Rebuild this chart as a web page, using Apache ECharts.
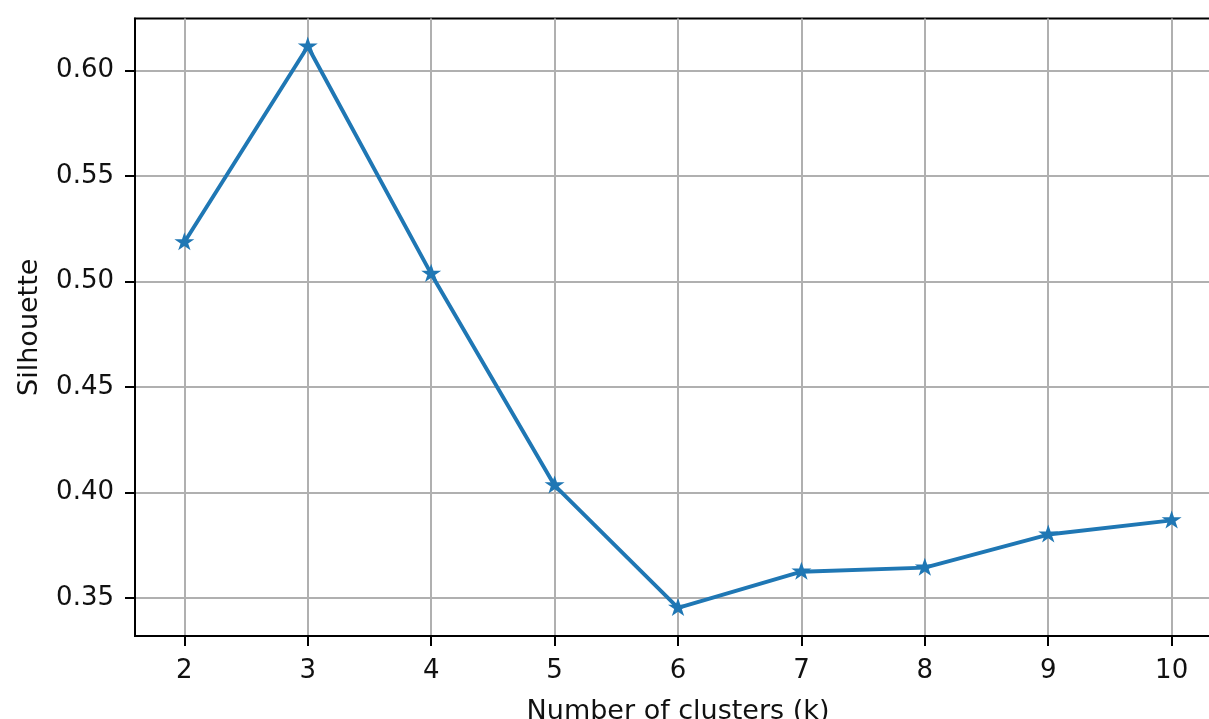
<!DOCTYPE html>
<html>
<head>
<meta charset="utf-8">
<script src="https://cdn.jsdelivr.net/npm/echarts@6/dist/echarts.min.js"></script>
<style>
html,body{margin:0;padding:0;background:#fff;overflow:hidden;width:1209px;height:719px;}
#chart{width:1221px;height:719px;}
</style>
</head>
<body>
<div id="chart"></div>
<script>
const clusters = [2, 3, 4, 5, 6, 7, 8, 9, 10];
const silhouette = [0.5186, 0.6114, 0.5036, 0.4033, 0.3452, 0.3624, 0.3643, 0.3800, 0.3867];
const xTicks = [2, 3, 4, 5, 6, 7, 8, 9, 10];
const yTicks = [0.35, 0.40, 0.45, 0.50, 0.55, 0.60];
const xLabel = 'Number of clusters (k)';
const yLabel = 'Silhouette';

const starPath = 'path://M100 0L122.45 69.1L195.11 69.1L136.33 111.8L158.78 180.9L100 138.2L41.22 180.9L63.67 111.8L4.89 69.1L77.55 69.1Z';
const font = 'DejaVu Sans';
const txt = '#111111';

const chart = echarts.init(document.getElementById('chart'), null, {renderer: 'canvas', width: 1221, height: 719});
chart.setOption({
  animation: false,
  backgroundColor: '#ffffff',
  grid: {
    left: 135, top: 18.5, bottom: 83, right: 0,
    show: true, borderColor: '#000', borderWidth: 2, backgroundColor: 'transparent',
    containLabel: false,
    outerBoundsMode: 'none'
  },
  xAxis: {
    type: 'value',
    min: 1.6, max: 10.4,
    name: xLabel,
    nameLocation: 'middle',
    nameGap: 62,
    nameTextStyle: {fontFamily: font, fontSize: 27, color: txt},
    axisLine: {show: true, onZero: false, lineStyle: {color: '#000', width: 2}},
    axisTick: {show: true, inside: false, length: 10, lineStyle: {color: '#000', width: 2}, customValues: xTicks},
    axisLabel: {fontFamily: font, fontSize: 26, color: txt, margin: 22, customValues: xTicks},
    splitLine: {show: true, lineStyle: {color: '#b0b0b0', width: 2}, customValues: xTicks}
  },
  yAxis: {
    type: 'value',
    min: 0.3319, max: 0.6247,
    name: yLabel,
    nameLocation: 'middle',
    nameGap: 92,
    nameRotate: 90,
    nameTextStyle: {fontFamily: font, fontSize: 27, color: txt},
    axisLine: {show: true, onZero: false, lineStyle: {color: '#000', width: 2}},
    axisTick: {show: true, inside: false, length: 10, lineStyle: {color: '#000', width: 2}, customValues: yTicks},
    axisLabel: {fontFamily: font, fontSize: 26, color: txt, margin: 21, customValues: yTicks,
      formatter: v => v.toFixed(2)},
    splitLine: {show: true, lineStyle: {color: '#b0b0b0', width: 2}, customValues: yTicks}
  },
  series: [{
    type: 'line',
    data: clusters.map((k, i) => [k, silhouette[i]]),
    symbol: starPath,
    symbolSize: [20, 19],
    symbolKeepAspect: true,
    symbolOffset: [0, -1],
    showAllSymbol: true,
    lineStyle: {color: '#1f77b4', width: 3.9},
    itemStyle: {color: '#1f77b4', borderWidth: 0},
    clip: false
  }]
});
</script>
</body>
</html>
